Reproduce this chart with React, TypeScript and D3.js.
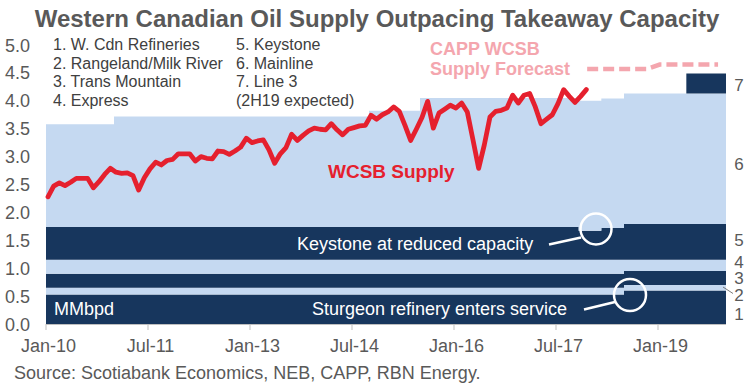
import React from 'react';
import * as d3 from 'd3';

// ---------- DATA ----------
// Monthly WCSB supply (MMbpd), Jan-10 .. Dec-17
const supplyValues = [
  2.28, 2.47, 2.53, 2.48, 2.54, 2.61, 2.61, 2.61, 2.44, 2.55,
  2.68, 2.79, 2.72, 2.70, 2.71, 2.66, 2.40, 2.62, 2.78, 2.90,
  2.85, 2.93, 2.95, 3.05, 3.05, 3.05, 2.92, 3.00, 2.97, 2.96,
  3.10, 3.09, 3.04, 3.10, 3.17, 3.33, 3.25, 3.28, 3.30, 3.12,
  2.88, 3.05, 3.16, 3.40, 3.29, 3.38, 3.46, 3.51, 3.49, 3.48,
  3.59, 3.48, 3.39, 3.49, 3.52, 3.55, 3.56, 3.74, 3.67, 3.75,
  3.80, 3.89, 3.81, 3.56, 3.29, 3.49, 3.70, 3.99, 3.51, 3.78,
  3.85, 3.92, 3.87, 3.96, 3.80, 3.30, 2.79, 3.21, 3.71, 3.81,
  3.83, 3.87, 4.10, 3.96, 4.10, 4.13, 3.89, 3.59, 3.67, 3.75,
  3.95, 4.20, 4.08, 3.97, 4.08, 4.20,
];
const supplyMonthOffset = 0.35; // mid-month placement

// Capacity periods (months since Jan-10) and layer capacities
const periodStartMonths = [0, 12, 57, 66, 94, 98, 102, 113];
const periodEndMonth = 120;
const refineries = [0.53, 0.53, 0.53, 0.53, 0.53, 0.53, 0.60, 0.60];
const rangeland = [0.12, 0.12, 0.12, 0.12, 0.12, 0.12, 0.10, 0.10];
const transMountain = [0.25, 0.25, 0.25, 0.25, 0.25, 0.25, 0.25, 0.25];
const express = [0.25, 0.25, 0.25, 0.25, 0.25, 0.25, 0.20, 0.20];
const keystone = [0.59, 0.59, 0.59, 0.59, 0.52, 0.57, 0.64, 0.64];
const mainline = [1.84, 1.98, 2.08, 2.31, 2.33, 2.32, 2.34, 2.34];
const line3 = [0, 0, 0, 0, 0, 0, 0, 0.36];

// CAPP forecast
const forecastMonths = [95.5, 106, 108.3, 118.6];
const forecastValues = [4.57, 4.57, 4.65, 4.65];

const xTickMonths = [0, 18, 36, 54, 72, 90, 108];
const xTickLabels = ['Jan-10', 'Jul-11', 'Jan-13', 'Jul-14', 'Jan-16', 'Jul-17', 'Jan-19'];
const yTickValues = [0, 0.5, 1, 1.5, 2, 2.5, 3, 3.5, 4, 4.5, 5];

const legendCol1 = ['1. W. Cdn Refineries', '2. Rangeland/Milk River', '3. Trans Mountain', '4. Express'];
const legendCol2 = ['5. Keystone', '6. Mainline', '7. Line 3', '(2H19 expected)'];
const rightLabels = ['1', '2', '3', '4', '5', '6', '7'];

// ---------- STYLE ----------
const NAVY = '#17365d';
const LIGHT = '#c5d9f1';
const RED = '#e5202e';
const PINK = '#f4a6ae';
const GRAY = '#595959';
const FONT = '"Liberation Sans", Arial, sans-serif';

export default function App() {
  const W = 754, H = 386;
  const x = d3.scaleLinear().domain([0, 120]).range([46, 726]);
  const y = d3.scaleLinear().domain([0, 5]).range([324, 45]);

  const keys = ['l1', 'l2', 'l3', 'l4', 'l5', 'l6', 'l7'];
  const layers = [refineries, rangeland, transMountain, express, keystone, mainline, line3];
  const rows = periodStartMonths.map((m, k) => {
    const r: any = { month: m };
    keys.forEach((key, j) => (r[key] = layers[j][k]));
    return r;
  });
  const last = { ...rows[rows.length - 1], month: periodEndMonth };
  rows.push(last);
  const stacked = d3.stack().keys(keys)(rows as any);
  const area = d3
    .area<any>()
    .x((d) => x(d.data.month))
    .y0((d) => y(d[0]))
    .y1((d) => y(d[1]))
    .curve(d3.curveStepAfter);

  const supplyLine = d3
    .line<number>()
    .x((_, i) => x(i + supplyMonthOffset))
    .y((v) => y(v));

  const forecastLine = d3
    .line<number>()
    .x((_, i) => x(forecastMonths[i]))
    .y((v) => y(v));

  const rightLabelY = [319.5, 300.5, 283.5, 267.5, 245.5, 169.5, 90.5];

  return (
    <svg width={W} height={H} style={{ position: 'absolute', left: 0, top: 0, background: '#fff' }} fontFamily={FONT}>
      <text x={377} y={27} textAnchor="middle" fontSize={24} fontWeight="bold" fill={GRAY}>
        Western Canadian Oil Supply Outpacing Takeaway Capacity
      </text>

      {/* capacity layers */}
      {stacked.map((s, j) => (
        <path key={j} d={area(s as any) || ''} fill={j % 2 === 0 ? NAVY : LIGHT} />
      ))}

      {/* axis */}
      <line x1={46} x2={726} y1={324.5} y2={324.5} stroke="#bfbfbf" strokeWidth={1} />
      {xTickMonths.map((m, i) => (
        <g key={i}>
          <line x1={x(m)} x2={x(m)} y1={324} y2={330} stroke="#bfbfbf" strokeWidth={1} />
          <text x={x(m) + 2.5} y={352} textAnchor="middle" fontSize={18} fill={GRAY}>
            {xTickLabels[i]}
          </text>
        </g>
      ))}
      {yTickValues.map((v) => (
        <text key={v} x={30} y={y(v) + 6.5} textAnchor="end" fontSize={18} fill={GRAY}>
          {v.toFixed(1)}
        </text>
      ))}

      {/* legend */}
      {legendCol1.map((t, i) => (
        <text key={t} x={53} y={50 + i * 18.5} fontSize={16} fill="#404040">{t}</text>
      ))}
      {legendCol2.map((t, i) => (
        <text key={t} x={236} y={50 + i * 18.5} fontSize={16} fill="#404040">{t}</text>
      ))}

      {/* supply line */}
      <path d={supplyLine(supplyValues) || ''} fill="none" stroke={RED} strokeWidth={4.8} strokeLinejoin="round" strokeLinecap="round" />
      {/* forecast */}
      <path d={forecastLine(forecastValues) || ''} fill="none" stroke={PINK} strokeWidth={4.5} strokeDasharray="11 5" strokeLinecap="butt" />

      <text x={328} y={178} fontSize={19} fontWeight="bold" fill={RED}>WCSB Supply</text>
      <text x={430} y={55} fontSize={18} fontWeight="bold" fill={PINK}>CAPP WCSB</text>
      <text x={430} y={75} fontSize={18} fontWeight="bold" fill={PINK}>Supply Forecast</text>

      {/* annotations */}
      <text x={297} y={250} fontSize={18} fill="#fff">Keystone at reduced capacity</text>
      <line x1={549} y1={244.5} x2={581} y2={237.5} stroke="#fff" strokeWidth={2.5} />
      <circle cx={596} cy={229} r={15.5} fill="none" stroke="#fff" strokeWidth={2.5} />
      <text x={312} y={314.5} fontSize={18} fill="#fff">Sturgeon refinery enters service</text>
      <line x1={584} y1={309.5} x2={615} y2={302} stroke="#fff" strokeWidth={2.5} />
      <circle cx={630} cy={295} r={16} fill="none" stroke="#fff" strokeWidth={2.5} />
      <text x={54} y={314.5} fontSize={18} fill="#fff">MMbpd</text>

      {/* right labels */}
      {rightLabels.map((t, i) => (
        <text key={t} x={739} y={rightLabelY[i]} textAnchor="middle" fontSize={17} fill={GRAY}>{t}</text>
      ))}
      <line x1={723} y1={287} x2={733} y2={293.5} stroke={GRAY} strokeWidth={0.8} />

      <text x={14} y={379} fontSize={18} fill={GRAY}>
        Source: Scotiabank Economics, NEB, CAPP, RBN Energy.
      </text>
    </svg>
  );
}
